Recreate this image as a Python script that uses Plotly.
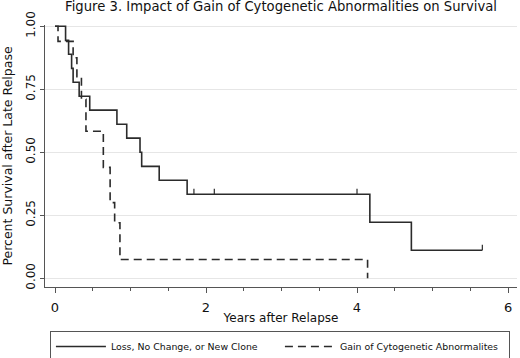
import plotly.graph_objects as go

# Kaplan-Meier step data
solid_x = [0, 0.14, 0.18, 0.22, 0.24, 0.32, 0.46, 0.82, 0.95, 1.126, 1.148, 1.38, 1.75, 4.17, 4.72, 5.66]
solid_y = [1.0, 0.944, 0.889, 0.833, 0.778, 0.722, 0.667, 0.611, 0.556, 0.5, 0.444, 0.389, 0.333, 0.222, 0.111, 0.111]
solid_censor_x = [1.84, 2.11, 4.0, 5.66]

dashed_x = [0, 0.04, 0.24, 0.29, 0.35, 0.41, 0.64, 0.73, 0.79, 0.86, 4.14]
dashed_y = [1.0, 0.94, 0.875, 0.80, 0.71, 0.583, 0.44, 0.30, 0.22, 0.074, 0.0]

series_names = ["Loss, No Change, or New Clone", "Gain of Cytogenetic Abnormalites"]
y_ticks = [0, 0.25, 0.5, 0.75, 1.0]
y_tick_labels = ["0.00", "0.25", "0.50", "0.75", "1.00"]
x_ticks = [0, 2, 4, 6]
x_tick_labels = ["0", "2", "4", "6"]

FONT = "DejaVu Sans"
LINE = "#2b2b2b"


def step_value(xs, ys, x):
    v = ys[0]
    for xi, yi in zip(xs, ys):
        if xi <= x:
            v = yi
    return v


fig = go.Figure()
fig.add_trace(go.Scatter(x=solid_x, y=solid_y, mode="lines", line_shape="hv",
                         line=dict(color=LINE, width=1.6), name=series_names[0]))
fig.add_trace(go.Scatter(x=dashed_x, y=dashed_y, mode="lines", line_shape="hv",
                         line=dict(color=LINE, width=1.6, dash="8px,5px"), name=series_names[1]))

cx, cy = [], []
for c in solid_censor_x:
    v = step_value(solid_x, solid_y, c)
    cx += [c, c, None]
    cy += [v, v + 0.022, None]
fig.add_trace(go.Scatter(x=cx, y=cy, mode="lines", line=dict(color=LINE, width=1.2),
                         showlegend=False, hoverinfo="skip"))

fig.update_layout(
    width=520, height=358,
    margin=dict(l=45, r=3, t=25, b=71, autoexpand=False),
    paper_bgcolor="white", plot_bgcolor="white",
    font=dict(family=FONT, size=12, color="#111"),
    title=dict(text="Figure 3. Impact of Gain of Cytogenetic Abnormalities on Survival",
               x=0.5, xref="paper", xanchor="center", yref="container", y=0.983, yanchor="middle",
               pad=dict(t=0, b=0),
               font=dict(family=FONT, size=13.2, color="#111")),
    showlegend=True,
    legend=dict(orientation="h", xref="container", yref="container",
                x=0.096, xanchor="left", y=0.0754, yanchor="top",
                bordercolor="#555", borderwidth=1, font=dict(size=9.4, family=FONT),
                entrywidth=164, entrywidthmode="pixels", itemwidth=50,
                tracegroupgap=0),
)
fig.update_xaxes(range=[-0.1325, 6.119], tickvals=x_ticks, ticktext=x_tick_labels,
                 automargin=False,
                 showgrid=False, zeroline=False, showline=True, linecolor="#555", linewidth=1,
                 ticks="outside", ticklen=5, tickcolor="#555", ticklabelstandoff=3,
                 minor=dict(dtick=0.5, tick0=0, ticks="outside", ticklen=3, tickcolor="#555", showgrid=False),
                 tickfont=dict(size=13, family=FONT, color="#111"),
                 title=dict(text="Years after Relapse", font=dict(size=12, family=FONT), standoff=0))
fig.update_yaxes(range=[-0.035, 1.005], tickvals=y_ticks, ticktext=y_tick_labels,
                 automargin=False,
                 showgrid=True, gridcolor="#e6e6e6", gridwidth=1, zeroline=False,
                 showline=True, linecolor="#555", linewidth=1,
                 ticks="outside", ticklen=4, tickcolor="#555", tickangle=-90, ticklabelstandoff=0,
                 tickfont=dict(size=12, family=FONT, color="#111"),
                 title=dict(text="Percent Survival after Late Relpase", font=dict(size=12.5, family=FONT), standoff=13))

fig.write_html("out.html", post_script="document.body.style.margin='0px';",
               config={"displayModeBar": False})
